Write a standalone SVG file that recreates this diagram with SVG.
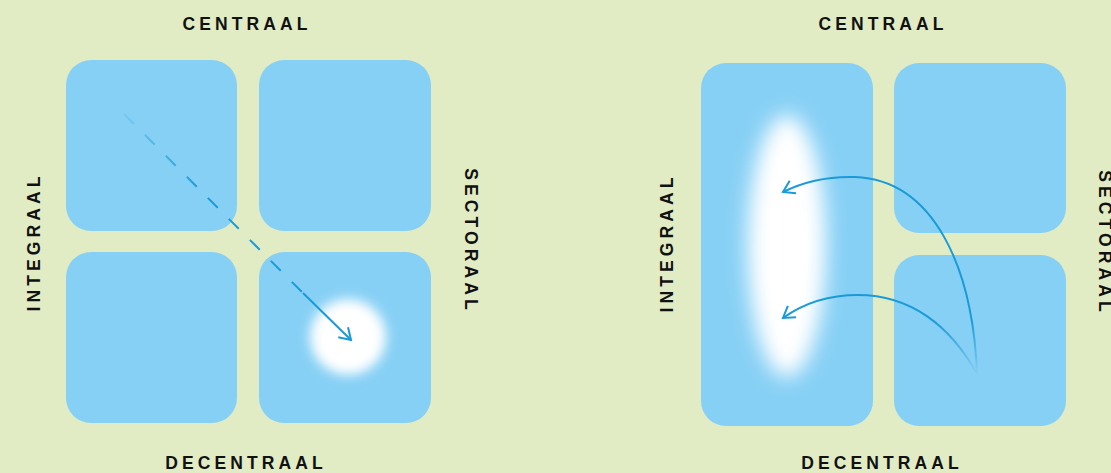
<svg xmlns="http://www.w3.org/2000/svg" width="1111" height="473" viewBox="0 0 1111 473">
<style>
.box{fill:#87d0f5}
.lbl{font-family:"Liberation Sans",Arial,sans-serif;font-weight:bold;font-size:17.5px;letter-spacing:4.1px;fill:#111;text-anchor:middle}
.ln{fill:none;stroke-width:2;stroke-linecap:butt}
</style>
<defs>
<filter id="blurS" x="-1" y="-1" width="3" height="3"><feGaussianBlur stdDeviation="6"/></filter>
<filter id="blurL" x="-1" y="-1" width="3" height="3"><feGaussianBlur stdDeviation="10"/></filter>
<linearGradient id="gDash" gradientUnits="userSpaceOnUse" x1="121" y1="111" x2="200" y2="190">
<stop offset="0" stop-color="#1a9ad7" stop-opacity="0.1"/>
<stop offset="1" stop-color="#1a9ad7" stop-opacity="1"/>
</linearGradient>
<linearGradient id="gCurve" gradientUnits="userSpaceOnUse" x1="0" y1="375" x2="0" y2="320">
<stop offset="0" stop-color="#1a9ad7" stop-opacity="0"/>
<stop offset="1" stop-color="#1a9ad7" stop-opacity="1"/>
</linearGradient>
<marker id="head" viewBox="-13 -8 15 16" refX="0" refY="0" markerWidth="15" markerHeight="16" markerUnits="userSpaceOnUse" orient="auto">
<path d="M-11,-7 L0,0 L-11,7" fill="none" stroke="#1a9ad7" stroke-width="2"/>
</marker>
</defs>
<rect width="1111" height="473" fill="#e1ecc5"/>

<g id="left-panel">
<g id="l-tl"><rect class="box" x="66" y="60" width="171" height="171" rx="25"/></g>
<g id="l-tr"><rect class="box" x="259" y="60" width="172" height="171" rx="25"/></g>
<g id="l-bl"><rect class="box" x="66" y="252" width="171" height="171" rx="25"/></g>
<g id="l-br"><rect class="box" x="259" y="252" width="172" height="171" rx="25"/>
<circle cx="348" cy="337" r="38" fill="#fff" filter="url(#blurS)"/></g>
</g>

<g id="right-panel">
<g id="r-left"><rect class="box" x="701" y="63" width="172" height="363" rx="25"/>
<ellipse cx="787" cy="246" rx="39" ry="131" fill="#fff" filter="url(#blurL)"/></g>
<g id="r-tr"><rect class="box" x="894" y="63" width="172" height="170" rx="25"/></g>
<g id="r-br"><rect class="box" x="894" y="255" width="172" height="171" rx="25"/></g>
</g>

<g id="connectors">
<path class="ln" d="M121,111 L303,293" stroke="url(#gDash)" stroke-dasharray="14 15.7" stroke-dashoffset="-4"/>
<path class="ln" d="M303,293 L351,340" stroke="#1a9ad7" marker-end="url(#head)"/>
<path class="ln" d="M977,374 C973,270 935,180 855,177 C822,176 797,185 783,192" stroke="url(#gCurve)" marker-end="url(#head)"/>
<path class="ln" d="M977,374 C950,325 910,295 858,295 C822,295 797,308 783,318" stroke="url(#gCurve)" marker-end="url(#head)"/>
</g>

<g id="labels">
<text class="lbl" x="247" y="30">CENTRAAL</text>
<text class="lbl" x="246" y="469">DECENTRAAL</text>
<text class="lbl" transform="translate(40,244) rotate(-90)" x="2" y="0">INTEGRAAL</text>
<text class="lbl" transform="translate(465,239) rotate(90)" x="2" y="0">SECTORAAL</text>
<text class="lbl" x="883" y="30">CENTRAAL</text>
<text class="lbl" x="882" y="469">DECENTRAAL</text>
<text class="lbl" transform="translate(673,245) rotate(-90)" x="2" y="0">INTEGRAAL</text>
<text class="lbl" transform="translate(1099,241) rotate(90)" x="2" y="0">SECTORAAL</text>
</g>
</svg>
